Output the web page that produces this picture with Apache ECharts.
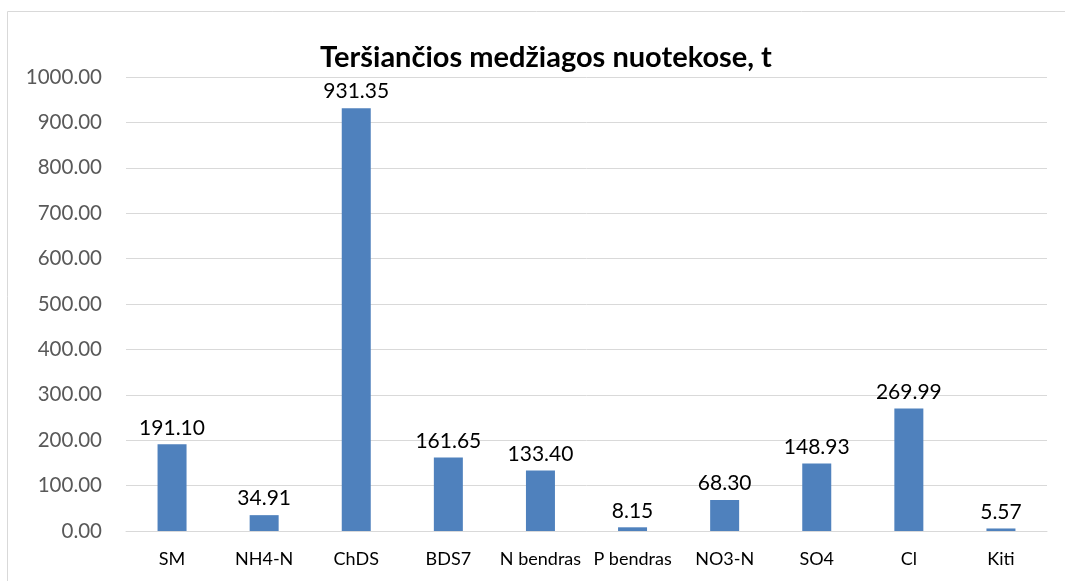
<!DOCTYPE html>
<html><head><meta charset="utf-8">
<script src="https://cdn.jsdelivr.net/npm/echarts@6/dist/echarts.min.js"></script>
<style>html,body{margin:0;padding:0;background:#fff}#c{width:1065px;height:581px}</style>
</head><body><div id="c"></div>
<script>
const titleText = 'Teršiančios medžiagos nuotekose, t';
const categories = ['SM','NH4-N','ChDS','BDS7','N bendras','P bendras','NO3-N','SO4','Cl','Kiti'];
const values = [191.10, 34.91, 931.35, 161.65, 133.40, 8.15, 68.30, 148.93, 269.99, 5.57];
const font = 'Lato, "Open Sans", sans-serif';
const chart = echarts.init(document.getElementById('c'));
chart.setOption({
  animation: false,
  title: {text: titleText, left: 541, textAlign: 'center', top: 38,
    textStyle: {fontFamily: font, fontSize: 29, fontWeight: 'bold', color: '#000'}},
  graphic: [{type: 'rect', shape: {x: 7.5, y: 11.5, width: 1070, height: 600},
    style: {fill: 'none', stroke: '#d9d9d9', lineWidth: 1}, silent: true}],
  grid: {left: 126, right: 18, top: 77, bottom: 50, containLabel: false},
  xAxis: {type: 'category', data: categories,
    axisLine: {lineStyle: {color: '#d9d9d9'}}, axisTick: {show: false},
    axisLabel: {interval: 0, fontFamily: font, fontSize: 18, color: '#000', margin: 19}},
  yAxis: {type: 'value', min: 0, max: 1000, interval: 100,
    axisLine: {show: false}, axisTick: {show: false},
    splitLine: {lineStyle: {color: '#d9d9d9', width: 1}},
    axisLabel: {fontFamily: font, fontSize: 20.5, color: '#595959', margin: 24,
      formatter: v => v.toFixed(2)}},
  series: [{type: 'bar', data: values, barWidth: 29,
    itemStyle: {color: '#4f81bd'},
    label: {show: true, position: 'top', distance: 6, fontFamily: font, fontSize: 21, color: '#000',
      formatter: p => p.value.toFixed(2)}}]
});
</script></body></html>
